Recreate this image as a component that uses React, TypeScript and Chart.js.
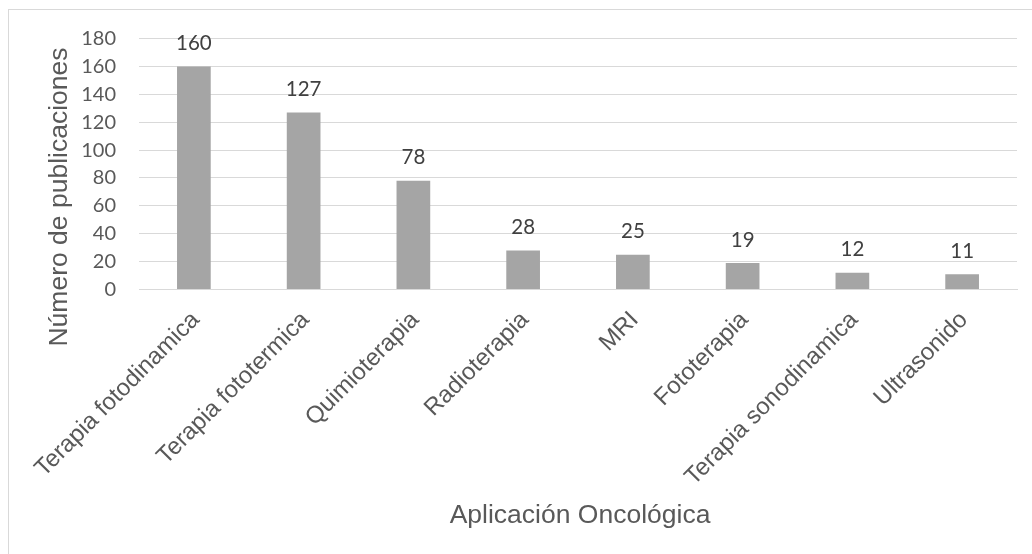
import React, { useEffect, useRef } from "react";
import { Chart, registerables } from "chart.js";

Chart.register(...registerables);

const categories = [
  "Terapia fotodinamica",
  "Terapia fototermica",
  "Quimioterapia",
  "Radioterapia",
  "MRI",
  "Fototerapia",
  "Terapia sonodinamica",
  "Ultrasonido",
];
const publications = [160, 127, 78, 28, 25, 19, 12, 11];
const yTickValues = [0, 20, 40, 60, 80, 100, 120, 140, 160, 180];
const xAxisTitle = "Aplicación Oncológica";
const yAxisTitle = "Número de publicaciones";

const TEXT = "#595959";
const LABEL = "#404040";
const GRID = "#d9d9d9";
const BAR = "#a5a5a5";

export default function App() {
  const canvasRef = useRef<HTMLCanvasElement | null>(null);

  useEffect(() => {
    const canvas = canvasRef.current;
    if (!canvas) return;

    const valueLabels = {
      id: "valueLabels",
      afterDatasetsDraw(chart: any) {
        const ctx = chart.ctx;
        const meta = chart.getDatasetMeta(0);
        ctx.save();
        ctx.fillStyle = LABEL;
        ctx.font = "20.5px Lato";
        ctx.textAlign = "center";
        ctx.textBaseline = "alphabetic";
        meta.data.forEach((bar: any, i: number) => {
          ctx.fillText(String(publications[i]), bar.x, bar.y - 16.5);
        });
        ctx.restore();
      },
    };

    const axisTitles = {
      id: "axisTitles",
      afterDraw(chart: any) {
        const ctx = chart.ctx;
        const area = chart.chartArea;
        ctx.save();
        ctx.fillStyle = TEXT;
        ctx.font = "26.5px 'Liberation Sans'";
        ctx.textAlign = "center";
        ctx.textBaseline = "alphabetic";
        ctx.fillText(xAxisTitle, (area.left + area.right) / 2 + 2, 523);
        ctx.translate(66.5, 197);
        ctx.rotate(-Math.PI / 2);
        ctx.fillText(yAxisTitle, 0, 0);
        ctx.restore();
      },
    };

    const chart = new Chart(canvas, {
      type: "bar",
      data: {
        labels: categories,
        datasets: [
          {
            data: publications,
            backgroundColor: BAR,
            borderWidth: 0,
            barPercentage: 0.307,
            categoryPercentage: 1,
          },
        ],
      },
      options: {
        animation: false,
        responsive: true,
        maintainAspectRatio: false,
        layout: { padding: { left: 0, right: 15, top: 38.5, bottom: 10 } },
        plugins: {
          legend: { display: false },
          tooltip: { enabled: false },
        },
        scales: {
          x: {
            grid: { display: false, drawTicks: false },
            border: { display: true, color: GRID, width: 1 },
            ticks: {
              autoSkip: false,
              minRotation: 45,
              maxRotation: 45,
              padding: 16.5,
              labelOffset: 2,
              color: TEXT,
              font: { family: "'Liberation Sans'", size: 24 },
            },
            afterFit(scale: any) {
              scale.height = 554 - 10 - 38.5 - 251;
            },
          },
          y: {
            min: 0,
            max: 180,
            grid: { color: GRID, lineWidth: 1, drawTicks: false },
            border: { display: false },
            ticks: {
              padding: 23,
              color: TEXT,
              font: { family: "Lato", size: 20 },
            },
            afterBuildTicks(scale: any) {
              scale.ticks = yTickValues.map((v) => ({ value: v }));
            },
            afterFit(scale: any) {
              scale.width = 139;
            },
          },
        },
      },
      plugins: [valueLabels, axisTitles],
    });

    return () => chart.destroy();
  }, []);

  return (
    <div
      style={{
        position: "absolute",
        left: 0,
        top: 0,
        width: 1032,
        height: 554,
        overflow: "hidden",
        background: "#ffffff",
      }}
    >
      <div
        style={{
          position: "absolute",
          left: 8,
          top: 9,
          width: 2000,
          height: 2000,
          border: `1px solid ${GRID}`,
        }}
      />
      <div style={{ position: "absolute", left: 0, top: 0, width: 1032, height: 554 }}>
        <canvas ref={canvasRef} />
      </div>
    </div>
  );
}
